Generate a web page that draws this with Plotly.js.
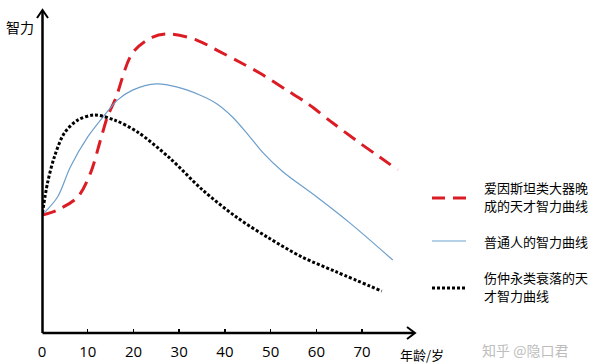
<!DOCTYPE html>
<html>
<head>
<meta charset="utf-8">
<script src="https://cdn.plot.ly/plotly-3.0.1.min.js"></script>
<style>html,body{margin:0;padding:0;background:#fff;}#chart{width:600px;height:364px;}</style>
</head>
<body>
<div id="chart"></div>
<script>
// Data (age in years, intelligence in arbitrary units 0-100)
var einsteinAge = [0, 3.4, 7.8, 10.6, 12.8, 14.3, 16.1, 19.8, 24.2, 27.9, 33.8, 38.2, 43.2, 47.6, 53.5, 57.9, 63.6, 69.5, 73.8, 77.8];
var einsteinVal = [36.5, 38.1, 42.1, 49.5, 59.8, 66.9, 72.6, 86.7, 91.6, 92.6, 90.7, 87.6, 83.9, 80.5, 75.2, 71.2, 65.0, 58.8, 54.5, 50.5];

var normalAge = [0.5, 3.4, 6.2, 10.0, 13.7, 16.5, 19.8, 25.1, 29.4, 34.5, 38.2, 41.7, 45.4, 48.2, 52.6, 60.1, 67.3, 76.7];
var normalVal = [37.2, 42.1, 51.4, 60.7, 67.5, 72.1, 75.2, 77.1, 76.2, 73.7, 71.0, 66.8, 60.8, 56.0, 50.0, 42.1, 34.1, 22.6];

var zhongyongAge = [0.1, 1.2, 2.7, 4.9, 7.8, 11.5, 15.9, 20.9, 27.9, 35.1, 42.5, 49.6, 56.9, 64.4, 74.3];
var zhongyongVal = [37.2, 46.4, 54.5, 61.9, 65.9, 67.5, 65.9, 62.2, 54.2, 44.3, 35.9, 29.4, 23.5, 18.9, 13.0];

var xTicks = [0, 10, 20, 30, 40, 50, 60, 70];
var seriesNames = [["爱因斯坦类大器晚", "成的天才智力曲线"], ["普通人的智力曲线"], ["伤仲永类衰落的天", "才智力曲线"]];
var yTitle = "智力";
var xTitle = "年龄/岁";
var watermark = "知乎 @隐口君";

// Layout geometry
var L = 42, T = 10, W = 375, H = 323;
function px(x) { return (x - L) / W; }
function py(y) { return (T + H - y) / H; }

var red = "#dc1c24", blue = "#6c9fcc", black = "#000000";
var cjk = "Noto Sans CJK SC";

var traces = [
  {x: einsteinAge, y: einsteinVal, mode: "lines", line: {color: red, width: 3, dash: "14px,8px", shape: "spline", smoothing: 0.9}, showlegend: false, hoverinfo: "skip"},
  {x: normalAge, y: normalVal, mode: "lines", line: {color: blue, width: 1.2, shape: "spline", smoothing: 0.9}, showlegend: false, hoverinfo: "skip"},
  {x: zhongyongAge, y: zhongyongVal, mode: "lines", line: {color: black, width: 3, dash: "3px,2px", shape: "spline", smoothing: 0.9}, showlegend: false, hoverinfo: "skip"}
];

var shapes = [
  // x axis
  {type: "line", xref: "paper", yref: "paper", x0: px(42.5), y0: py(333), x1: px(414), y1: py(333), line: {color: "#000", width: 2.5}},
  {type: "path", xref: "paper", yref: "paper", path: "M" + px(407) + "," + py(327) + " L" + px(415) + "," + py(333) + " L" + px(407) + "," + py(339), line: {color: "#000", width: 2}},
  // y axis
  {type: "line", xref: "paper", yref: "paper", x0: px(42.5), y0: py(333), x1: px(42.5), y1: py(11), line: {color: "#000", width: 2.5}},
  {type: "path", xref: "paper", yref: "paper", path: "M" + px(37) + "," + py(18) + " L" + px(42.5) + "," + py(10) + " L" + px(48) + "," + py(18), line: {color: "#000", width: 2}},
  // legend samples
  {type: "line", xref: "paper", yref: "paper", x0: px(432), y0: py(198), x1: px(466), y1: py(198), line: {color: red, width: 3, dash: "13px,8px"}},
  {type: "line", xref: "paper", yref: "paper", x0: px(432), y0: py(241), x1: px(466), y1: py(241), line: {color: blue, width: 1.2}},
  {type: "line", xref: "paper", yref: "paper", x0: px(432), y0: py(288), x1: px(466), y1: py(288), line: {color: black, width: 3, dash: "3px,2px"}}
];

var legendY = [[187, 205], [241], [277, 295]];
var annotations = [];
for (var i = 0; i < seriesNames.length; i++) {
  for (var j = 0; j < seriesNames[i].length; j++) {
    annotations.push({xref: "paper", yref: "paper", x: px(482), y: py(legendY[i][j]), xanchor: "left", yanchor: "middle", text: seriesNames[i][j], showarrow: false, font: {family: cjk, size: 13, color: "#000"}});
  }
}
annotations.push({xref: "paper", yref: "paper", x: px(4), y: py(27), xanchor: "left", yanchor: "middle", text: yTitle, showarrow: false, font: {family: cjk, size: 14, color: "#000"}});
annotations.push({xref: "paper", yref: "paper", x: px(398), y: py(355), xanchor: "left", yanchor: "middle", text: xTitle, showarrow: false, font: {family: cjk, size: 13, color: "#000"}});
annotations.push({xref: "paper", yref: "paper", x: px(480), y: py(350), xanchor: "left", yanchor: "middle", text: watermark, showarrow: false, font: {family: cjk, size: 14, color: "#bdbdbd"}});

var layout = {
  width: 600, height: 364,
  margin: {l: L, r: 600 - L - W, t: T, b: 364 - T - H, pad: 0},
  paper_bgcolor: "#fff", plot_bgcolor: "#fff",
  showlegend: false,
  xaxis: {range: [0, 82], tickvals: xTicks, ticktext: xTicks.map(String), ticks: "inside", ticklen: 4, tickwidth: 1.5, tickcolor: "#000", showgrid: false, zeroline: false, showline: false, tickfont: {family: "Open Sans", size: 15, color: "#000"}, ticklabelstandoff: 8, fixedrange: true},
  yaxis: {range: [0, 100], showticklabels: false, ticks: "", showgrid: false, zeroline: false, showline: false, fixedrange: true},
  shapes: shapes,
  annotations: annotations
};

Plotly.newPlot("chart", traces, layout, {displayModeBar: false, staticPlot: true});
</script>
</body>
</html>
